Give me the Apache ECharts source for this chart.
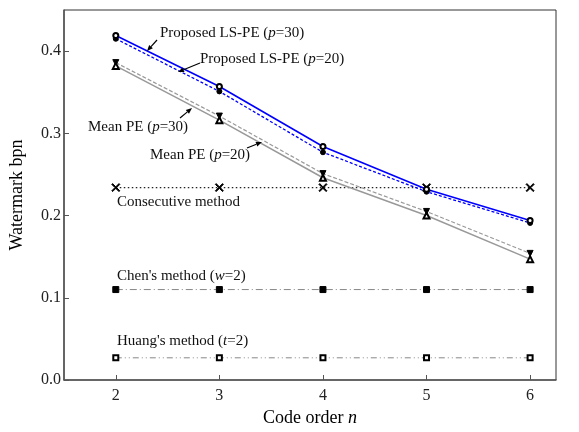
<!DOCTYPE html>
<html><head><meta charset="utf-8">
<script src="https://cdn.jsdelivr.net/npm/echarts@6/dist/echarts.min.js"></script>
<style>html,body{margin:0;padding:0;background:#fff}#c{width:579px;height:432px}</style>
</head><body><div id="c"></div>
<script>
var codeOrders = [2, 3, 4, 5, 6];
var lsPe30 = [0.419, 0.357, 0.284, 0.232, 0.194];
var lsPe20 = [0.415, 0.351, 0.277, 0.229, 0.191];
var meanPe30 = [0.382, 0.316, 0.246, 0.200, 0.147];
var meanPe20 = [0.386, 0.321, 0.251, 0.205, 0.154];
var consecutive = [0.234, 0.234, 0.234, 0.234, 0.234];
var chen = [0.110, 0.110, 0.110, 0.110, 0.110];
var huang = [0.027, 0.027, 0.027, 0.027, 0.027];
var xTicks = [2, 3, 4, 5, 6];
var yTicks = [0, 0.1, 0.2, 0.3, 0.4];

function pts(v){ return codeOrders.map(function(x,i){ return [x, v[i]]; }); }
var FONT = 'Liberation Serif';
var cross = 'path://M0,1L1,0L5,4L9,0L10,1L6,5L10,9L9,10L5,6L1,10L0,9L4,5Z';

function ser(name, data, lineColor, lineType, width, symbol, size, rotate, z){
  return {name:name, type:'line', data:pts(data), symbol:symbol, symbolSize:size, symbolRotate:rotate||0,
    z:z||2, showSymbol:true, animation:false,
    lineStyle:{color:lineColor, type:lineType, width:width},
    itemStyle:{color:'#000', borderColor:'#000', borderWidth:1}};
}

var chart = echarts.init(document.getElementById('c'), null, {renderer:'canvas'});
chart.setOption({
  animation:false,
  backgroundColor:'#fff',
  grid:{left:64, right:23, top:10, bottom:50, show:true, borderColor:'#333', borderWidth:1},
  xAxis:{type:'value', min:1.5, max:6.25,
    name:'Code order {i|n}', nameLocation:'middle', nameGap:29,
    nameTextStyle:{fontFamily:FONT, fontSize:18, color:'#000', rich:{i:{fontFamily:FONT,fontSize:18,fontStyle:'italic',color:'#000'}}},
    axisLine:{lineStyle:{color:'#555', width:1.5}},
    axisTick:{inside:true, length:5, customValues:xTicks, lineStyle:{color:'#555'}},
    axisLabel:{customValues:xTicks, fontFamily:FONT, fontSize:16, color:'#222', margin:8},
    splitLine:{show:false}},
  yAxis:{type:'value', min:0, max:0.45,
    name:'Watermark bpn', nameLocation:'middle', nameGap:38,
    nameTextStyle:{fontFamily:FONT, fontSize:18, color:'#000'},
    axisLine:{show:true, lineStyle:{color:'#555', width:1.5}},
    axisTick:{show:true, inside:true, length:5, customValues:yTicks, lineStyle:{color:'#555'}},
    axisLabel:{customValues:yTicks, fontFamily:FONT, fontSize:16, color:'#222', margin:3,
      formatter:function(v){return v.toFixed(1);}},
    splitLine:{show:false}},
  series:[
    ser('Huang', huang, '#888', [6,3,1,3,1,3], 1, 'emptyRect', 5),
    ser('Chen', chen, '#888', [7,3,1,3], 1, 'rect', 6),
    ser('Consecutive', consecutive, '#222', [1.5,2.5], 1.2, cross, 8),
    ser('Mean PE p=20', meanPe20, '#999', [4,2], 1.2, 'triangle', 6, 180),
    ser('Mean PE p=30', meanPe30, '#999', 'solid', 1.5, 'emptyTriangle', 6),
    ser('LS-PE p=20', lsPe20, '#0000ff', [3,2], 1.3, 'circle', 5),
    ser('LS-PE p=30', lsPe30, '#0000ff', 'solid', 1.6, 'emptyCircle', 5)
  ]
});

var labels = [
  {x:160, y:33, t:'Proposed LS-PE ({i|p}=30)'},
  {x:200, y:59, t:'Proposed LS-PE ({i|p}=20)'},
  {x:88, y:127, t:'Mean PE ({i|p}=30)'},
  {x:150, y:155, t:'Mean PE ({i|p}=20)'},
  {x:117, y:202, t:'Consecutive method'},
  {x:117, y:276, t:"Chen's method ({i|w}=2)"},
  {x:117, y:341, t:"Huang's method ({i|t}=2)"}
];
var arrows = [
  [157,40,147,51],
  [200,63,178,72],
  [180,118,192,108],
  [247,148,262,142]
];
var g = [];
labels.forEach(function(l){
  g.push({type:'text', x:l.x, y:l.y, style:{text:l.t, fontFamily:FONT, fontSize:15, fill:'#111',
    verticalAlign:'middle', rich:{i:{fontFamily:FONT,fontSize:15,fontStyle:'italic',fill:'#111'}}}});
});
arrows.forEach(function(a){
  var dx=a[2]-a[0], dy=a[3]-a[1], L=Math.sqrt(dx*dx+dy*dy), ux=dx/L, uy=dy/L;
  var hl=6, hw=2.5;
  var bx=a[2]-ux*hl, by=a[3]-uy*hl;
  g.push({type:'line', shape:{x1:a[0],y1:a[1],x2:bx,y2:by}, style:{stroke:'#000', lineWidth:1.2}, z:10});
  g.push({type:'polygon', shape:{points:[[a[2],a[3]],[bx-uy*hw,by+ux*hw],[bx+uy*hw,by-ux*hw]]}, style:{fill:'#000'}, z:10});
});
chart.setOption({graphic:g});
</script></body></html>
